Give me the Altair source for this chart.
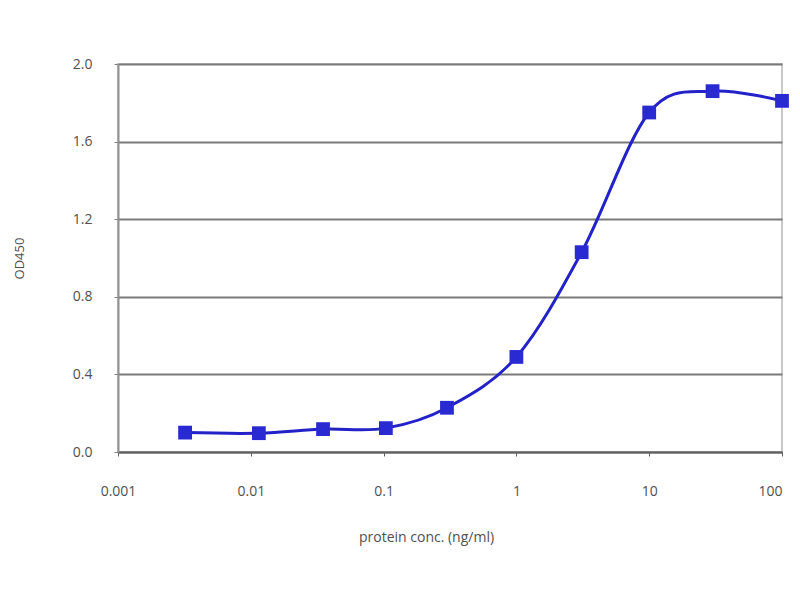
import altair as alt
import pandas as pd

conc = [0.0032, 0.0115, 0.035, 0.104, 0.3, 1.0, 3.1, 10.0, 30.0, 100.0]
od450 = [0.10, 0.097, 0.118, 0.123, 0.228, 0.49, 1.03, 1.75, 1.86, 1.81]
x_ticks = [0.001, 0.01, 0.1, 1, 10, 100]
y_ticks = [0.0, 0.4, 0.8, 1.2, 1.6, 2.0]

df = pd.DataFrame({"conc": conc, "od": od450})

FONT = "Open Sans"
TXT = "#505050"

x = alt.X(
    "conc:Q",
    scale=alt.Scale(type="log", domain=[0.001, 100], nice=False),
    axis=alt.Axis(
        values=x_ticks, format="~g", title="protein conc. (ng/ml)",
        grid=False, domainColor="#606060", domainWidth=2, tickColor="#606060",
        tickSize=4, labelPadding=28, labelFontSize=14, labelColor=TXT,
        labelFlush=False, labelOverlap=False, labelBound=False,
        labelAlign={"condition": {"test": "datum.value >= 100", "value": "right"}, "value": "center"},
        labelFont=FONT, titleFont=FONT, titleFontSize=14, titleColor=TXT,
        titleFontWeight="normal", titleX=308, titleY=85, titleBaseline="middle",
    ),
)
y = alt.Y(
    "od:Q",
    scale=alt.Scale(domain=[0, 2.0], nice=False),
    axis=alt.Axis(
        values=y_ticks, format=".1f", title="OD450",
        grid=True, gridColor="#7a7a7a", gridWidth=2,
        domainColor="#909090", domainWidth=2, tickColor="#808080", tickSize=4,
        labelPadding=22, labelFontSize=14, labelColor=TXT, labelFont=FONT,
        labelFlush=False,
        titleFont=FONT, titleFontSize=13, titleColor=TXT, titleFontWeight="normal",
        titleX=-99, titleY=194, titleAngle=-90, titleBaseline="middle",
    ),
)

base = alt.Chart(df)
line = base.mark_line(color="#2222c8", strokeWidth=3, interpolate="cardinal").encode(x=x, y=y)
pts = base.mark_point(shape="square", filled=True, size=190, color="#2a2ad2", opacity=1).encode(x=x, y=y)

chart = (
    alt.layer(line, pts)
    .properties(
        width=664, height=388,
        autosize=alt.AutoSizeParams(type="none"),
        padding={"left": 110, "top": 56, "right": 8, "bottom": 132},
        background="white",
    )
    .configure_view(stroke="#c8c8c8", strokeWidth=2)
)

chart.save("out.html", embed_options={"renderer": "svg", "actions": False})
